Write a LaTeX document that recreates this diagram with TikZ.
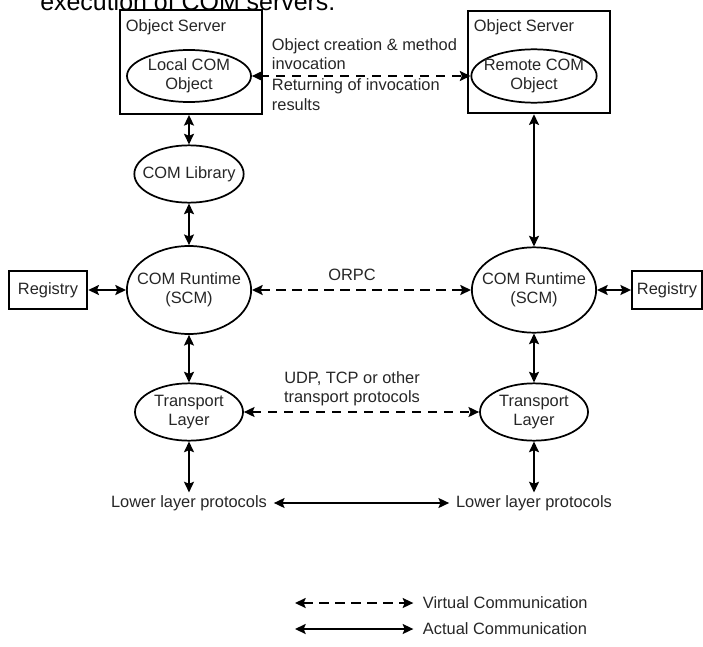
\documentclass[tikz,border=0pt]{standalone}
\usepackage{fontspec}
\setmainfont{Liberation Sans}
\usetikzlibrary{arrows.meta, positioning, shapes.geometric}

\begin{document}
\begin{tikzpicture}[
    x=0.75pt, y=-0.75pt,
    font=\fontsize{12.3}{14.5}\selectfont,
    oval/.style={draw, ellipse, line width=1.3pt, align=center, inner xsep=-6pt, inner ysep=-2pt, text=black!85},
    srvbox/.style={draw, rectangle, line width=1.4pt, minimum width=107pt, minimum height=78pt},
    regbox/.style={draw, rectangle, line width=1.4pt, minimum height=28pt, inner xsep=2pt, text=black!85},
    txt/.style={inner sep=2pt, align=left, text=black!85},
    actual/.style={{Stealth[length=8pt,width=7.5pt,inset=1.5pt]}-{Stealth[length=8pt,width=7.5pt,inset=1.5pt]}, line width=1.3pt},
    virtual/.style={actual, dash pattern=on 7pt off 5pt}]
  \useasboundingbox (0,0) rectangle (703,646);
  % caption cut by the top edge
  \node[anchor=base west, inner sep=0, font=\fontsize{18.7}{22}\selectfont] (cap) at (40,10) {execution of COM servers.};

  % object servers
  \node[srvbox] (lsrv) at (191,62) {};
  \node[srvbox, minimum height=77pt] (rsrv) at (539,62) {};
  \node[txt, anchor=west] (lsrvlbl) at (123,27) {Object Server};
  \node[txt, anchor=west] (rsrvlbl) at (471,27) {Object Server};
  \node[oval, minimum width=93pt, minimum height=39pt] (lcom) at (189,76) {Local COM\\Object};
  \node[oval, minimum width=94pt, minimum height=40pt] (rcom) at (534,76) {Remote COM\\Object};

  % left stack
  \node[oval, minimum width=82pt, minimum height=43pt] (llib) at (189,174) {COM Library};
  \node[oval, minimum width=90pt, minimum height=66pt] (lrun) at (189,290) {COM Runtime\\(SCM)};
  \node[oval, minimum width=81pt, minimum height=43pt] (ltrn) at (189,412) {Transport\\Layer};
  \node[txt, inner xsep=5pt] (llow) at (189,503) {Lower layer protocols};
  \node[regbox, minimum width=59pt] (lreg) at (48,290) {Registry};

  % right stack
  \node[oval, minimum width=88.5pt, minimum height=64pt] (rrun) at (534,290) {COM Runtime\\(SCM)};
  \node[oval, minimum width=81pt, minimum height=43pt] (rtrn) at (534,412) {Transport\\Layer};
  \node[txt, inner xsep=5pt] (rlow) at (534,503) {Lower layer protocols};
  \node[regbox, minimum width=52.5pt] (rreg) at (667,290) {Registry};

  % labels on the virtual links
  \node[txt, anchor=south west] (calllbl) at (269,73) {Object creation \& method\\invocation};
  \node[txt, anchor=north west] (retlbl) at (269,76) {Returning of invocation\\results};
  \node[txt] (orpclbl) at (352,275) {ORPC};
  \node[txt, align=center] (udplbl) at (352,389) {UDP, TCP or other\\transport protocols};

  % legend
  \node[txt, anchor=west] (vleg) at (420,603) {Virtual Communication};
  \node[txt, anchor=west] (aleg) at (420,629) {Actual Communication};
  \coordinate (vstart) at (295,603);
  \coordinate (astart) at (295,629);

  \draw[actual] (lcom.south |- lsrv.south) -- (llib.north);
  \draw[actual] (llib) -- (lrun);
  \draw[actual] (lrun) -- (ltrn);
  \draw[actual] (ltrn) -- (llow);
  \draw[actual] (lreg) -- (lrun);
  \draw[actual] (rrun.north |- rsrv.south) -- (rrun.north);
  \draw[actual] (rrun) -- (rtrn);
  \draw[actual] (rtrn) -- (rlow);
  \draw[actual] (rrun) -- (rreg);
  \draw[virtual] (lcom) -- (rcom);
  \draw[virtual] (lrun) -- (rrun);
  \draw[virtual] (ltrn) -- (rtrn);
  \draw[actual] (llow) -- (rlow);
  \draw[virtual] (vstart) -- ([xshift=-5pt]vleg.west);
  \draw[actual] (astart) -- ([xshift=-5pt]aleg.west);
\end{tikzpicture}
\end{document}
